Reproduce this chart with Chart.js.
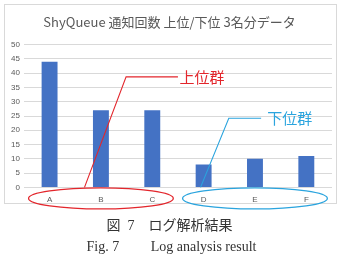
<!DOCTYPE html>
<html><head><meta charset="utf-8">
<script src="https://cdn.jsdelivr.net/npm/chart.js@4"></script>
<style>
html,body{margin:0;padding:0;background:#fff;width:343px;height:260px;overflow:hidden;}
#frame{position:absolute;left:4px;top:4px;width:331px;height:198px;border:1px solid #d9d9d9;}
#c{position:absolute;left:5px;top:5px;}
#cap1,#cap2{position:absolute;left:0;width:343px;text-align:center;font-family:"Liberation Serif","Noto Sans CJK JP",serif;font-size:14px;color:#333;white-space:pre;}
#cap1{top:214px;left:-2px;}
#cap2{top:235px;}
</style></head>
<body>
<div id="frame"></div>
<canvas id="c" width="331" height="212"></canvas>
<div id="cap1">図  7　ログ解析結果</div>
<div id="cap2">Fig. 7　　 Log analysis result</div>
<script>
const categories = ["A","B","C","D","E","F"];
const counts = [44, 27, 27, 8, 10, 11];
const yTicks = [0,5,10,15,20,25,30,35,40,45,50];
const titleText = "ShyQueue 通知回数 上位/下位 3名分データ";
const upperLabel = "上位群";
const lowerLabel = "下位群";

const groupPlugin = {
  id: 'groups',
  afterDraw(chart) {
    const ctx = chart.ctx, x = chart.scales.x, y = chart.scales.y;
    const ly = y.getPixelForValue(0) + 11;
    function ell(i0, i1, color) {
      const cx = (x.getPixelForValue(i0) + x.getPixelForValue(i1)) / 2;
      const rx = (x.getPixelForValue(i1) - x.getPixelForValue(i0)) / 2 + 21;
      ctx.save(); ctx.strokeStyle = color; ctx.lineWidth = 1.3;
      ctx.beginPath(); ctx.ellipse(cx, ly, rx, 10.5, 0, 0, Math.PI*2); ctx.stroke(); ctx.restore();
    }
    function leader(b, c, e, cv, t, label, color) {
      ctx.save(); ctx.strokeStyle = color; ctx.lineWidth = 1.1;
      const yc = y.getPixelForValue(cv);
      ctx.beginPath();
      ctx.moveTo(x.getPixelForValue(b), y.getPixelForValue(0));
      ctx.lineTo(x.getPixelForValue(c), yc);
      ctx.lineTo(x.getPixelForValue(e), yc);
      ctx.stroke();
      ctx.fillStyle = color; ctx.font = '15px "Noto Sans CJK JP"';
      ctx.textBaseline = 'middle'; ctx.textAlign = 'left';
      ctx.fillText(label, x.getPixelForValue(t), yc);
      ctx.restore();
    }
    ell(0, 2, '#e3262c');
    ell(3, 5, '#2aa4de');
    leader(0.68, 1.49, 2.5, 38.7, 2.53, upperLabel, '#e3262c');
    leader(2.94, 3.49, 4.12, 24.2, 4.24, lowerLabel, '#2aa4de');
  }
};

new Chart(document.getElementById('c'), {
  type: 'bar',
  data: { labels: categories, datasets: [{ data: counts, backgroundColor: '#4472c4', barPercentage: 0.31, categoryPercentage: 1 }] },
  options: {
    responsive: false, animation: false,
    layout: { padding: { left: 2, right: 4, top: 0, bottom: 4 } },
    plugins: {
      legend: { display: false }, tooltip: { enabled: false },
      title: { display: true, text: titleText, color: '#595959', font: { family: '"Noto Sans CJK JP"', size: 13, weight: 'normal' }, padding: { top: 9, bottom: 15 } }
    },
    scales: {
      x: { grid: { display: false, drawTicks: false }, border: { display: false }, ticks: { color: '#595959', font: { size: 8, family: 'Liberation Sans' }, padding: 8 } },
      y: { min: 0, max: 50, afterBuildTicks: (s) => { s.ticks = yTicks.map(v => ({ value: v })); },
           grid: { color: '#d9d9d9', drawTicks: false }, border: { display: false },
           ticks: { color: '#595959', font: { size: 8, family: 'Liberation Sans' }, padding: 4 } }
    }
  },
  plugins: [groupPlugin]
});
</script>
</body></html>
